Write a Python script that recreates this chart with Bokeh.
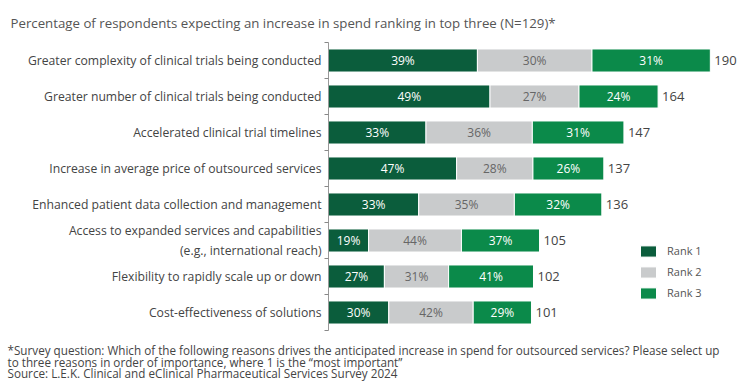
from bokeh.plotting import figure
from bokeh.models import Range1d, FixedTicker, Title, Legend, LegendItem, ColumnDataSource
from bokeh.core.properties import value
from bokeh.embed import file_html
from bokeh.resources import INLINE

FONT = "Open Sans"

title_text = "Percentage of respondents expecting an increase in spend ranking in top three (N=129)*"
categories = [
    "Greater complexity of clinical trials being conducted",
    "Greater number of clinical trials being conducted",
    "Accelerated clinical trial timelines",
    "Increase in average price of outsourced services",
    "Enhanced patient data collection and management",
    "Access to expanded services and capabilities\n(e.g., international reach)",
    "Flexibility to rapidly scale up or down",
    "Cost-effectiveness of solutions",
]
totals = [190, 164, 147, 137, 136, 105, 102, 101]
rank1_pct = [39, 49, 33, 47, 33, 19, 27, 30]
rank2_pct = [30, 27, 36, 28, 35, 44, 31, 42]
rank3_pct = [31, 24, 31, 26, 32, 37, 41, 29]
series_names = ["Rank 1", "Rank 2", "Rank 3"]
colors = ["#0b5d3c", "#c9cbcc", "#0b8a4a"]
pct_text_colors = ["#ffffff", "#666666", "#ffffff"]
footnotes = [
    "*Survey question: Which of the following reasons drives the anticipated increase in spend for outsourced services? Please select up",
    "to three reasons in order of importance, where 1 is the \u201cmost important\u201d",
    "Source: L.E.K. Clinical and eClinical Pharmaceutical Services Survey 2024",
]

W, H = 743, 391
LEFT = 328
p = figure(width=W, height=H, output_backend="svg", toolbar_location=None,
           x_range=Range1d(0, 206.5), y_range=Range1d(7.5, -0.5), x_axis_location=None,
           min_border_left=LEFT, min_border_right=0, min_border_top=42, min_border_bottom=61)
p.outline_line_color = None
p.grid.visible = False
p.background_fill_color = "white"

ys = list(range(len(categories)))
pcts = [rank1_pct, rank2_pct, rank3_pct]
renderers = []
left = [0.0] * len(categories)
for k in range(3):
    widths = [t * pcts[k][i] / (rank1_pct[i] + rank2_pct[i] + rank3_pct[i]) for i, t in enumerate(totals)]
    right = [l + w for l, w in zip(left, widths)]
    src = ColumnDataSource(dict(y=ys, left=left, right=right, mid=[(a + b) / 2 for a, b in zip(left, right)],
                                lab=[f"{v}%" for v in pcts[k]]))
    r = p.hbar(y="y", left="left", right="right", height=0.64, source=src,
               fill_color=colors[k], line_color="white", line_width=1)
    renderers.append(r)
    p.text(x="mid", y="y", text="lab", source=src, text_align="center", text_baseline="middle",
           text_color=pct_text_colors[k], text_font=value(FONT), text_font_size="12px")
    left = right

tsrc = ColumnDataSource(dict(x=totals, y=ys, lab=[str(t) for t in totals]))
p.text(x="x", y="y", text="lab", source=tsrc, x_offset=4, text_align="left", text_baseline="middle",
       text_color="#444444", text_font=value(FONT), text_font_size="13px")

ax = p.yaxis[0]
ax.ticker = FixedTicker(ticks=ys, minor_ticks=[i - 0.5 for i in range(len(categories) + 1)])
ax.major_label_overrides = {i: c for i, c in enumerate(categories)}
ax.major_tick_out = 0
ax.major_tick_in = 0
ax.minor_tick_out = 4
ax.minor_tick_in = 0
ax.minor_tick_line_color = "#888888"
ax.axis_line_color = "#999999"
ax.major_label_standoff = 3
ax.major_label_text_font = FONT
ax.major_label_text_font_size = "12.2px"
ax.major_label_text_color = "#444444"

legend = Legend(items=[LegendItem(label=n, renderers=[r]) for n, r in zip(series_names, renderers)],
                location=(310, 30), orientation="vertical", glyph_width=20, glyph_height=14,
                label_height=14, spacing=6, padding=0, margin=0, label_standoff=9,
                label_text_font=FONT, label_text_font_size="11px", label_text_color="#555555",
                border_line_color=None, background_fill_alpha=0)
p.add_layout(legend, "center")

p.title = Title(text=title_text, align="left", offset=10 - LEFT, text_font=FONT, text_font_size="13.25px",
                text_font_style="normal", text_color="#555555", standoff=22)
p.add_layout(Title(text="\n".join(footnotes), align="left", offset=7 - LEFT, text_font=FONT,
                   text_font_size="11.7px", text_font_style="normal", text_color="#444444",
                   text_line_height=0.72, standoff=20), "below")

open("out.html", "w").write(file_html(p, INLINE))
